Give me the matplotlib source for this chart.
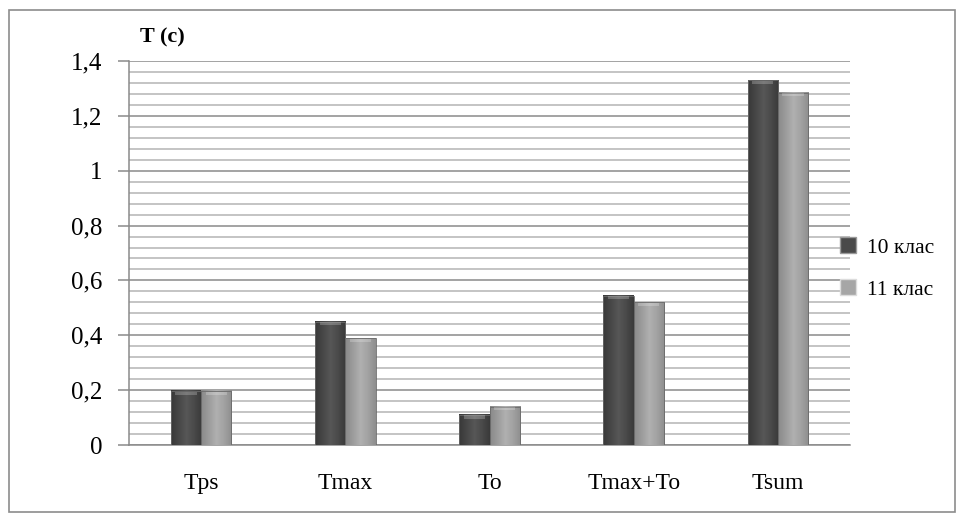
import matplotlib.pyplot as plt
import numpy as np
from matplotlib.patches import Rectangle
from matplotlib.colors import LinearSegmentedColormap

# data
categories = ["Tps", "Tmax", "To", "Tmax+To", "Tsum"]
class10 = [0.197, 0.45, 0.11, 0.545, 1.33]
class11 = [0.197, 0.39, 0.14, 0.52, 1.285]
series_names = ["10 клас", "11 клас"]
yticks = [0, 0.2, 0.4, 0.6, 0.8, 1, 1.2, 1.4]
ytick_labels = ["0", "0,2", "0,4", "0,6", "0,8", "1", "1,2", "1,4"]

plt.rcParams['font.family'] = ['Liberation Serif', 'DejaVu Serif']

fig = plt.figure(figsize=(9.6, 5.15), dpi=100)
# outer chart frame
fig.patches.append(Rectangle((9/960, 3/515), 946/960, 502/515, transform=fig.transFigure,
                             fill=False, edgecolor='#8c8c8c', linewidth=1.2))

ax = fig.add_axes([129/960, 70/515, 721/960, 384/515])

dark = LinearSegmentedColormap.from_list("dark", ["#383838", "#474747", "#575757", "#4a4a4a", "#3a3a3a"])
light = LinearSegmentedColormap.from_list("light", ["#8a8a8a", "#9c9c9c", "#b0b0b0", "#a2a2a2", "#8e8e8e"])
grad = np.linspace(0, 1, 64).reshape(1, -1)

w = 0.21
x = np.arange(len(categories))
for vals, cmap, off in [(class10, dark, -w / 2), (class11, light, w / 2)]:
    for xi, v in zip(x, vals):
        x0, x1 = xi + off - w / 2, xi + off + w / 2
        ax.imshow(grad, extent=[x0, x1, 0, v], aspect='auto', cmap=cmap, zorder=3, interpolation='bilinear')
        ax.add_patch(Rectangle((x0, 0), w, v, fill=False, edgecolor='#6a6a6a', linewidth=0.6, zorder=4))
        # small sheen at the top of the bar
        ax.add_patch(Rectangle((x0 + w * 0.15, v - 0.014), w * 0.7, 0.012, color='white', alpha=0.22,
                               linewidth=0, zorder=5))

ax.set_xlim(-0.5, len(categories) - 0.5)
ax.set_ylim(0, 1.4)

# grid: minor every 0.04, major every 0.2
for yv in np.arange(0.04, 1.4, 0.04):
    if abs(round(yv / 0.2) * 0.2 - yv) > 1e-6:
        ax.axhline(yv, color='#b4b4b4', linewidth=1.1, zorder=1)
for yv in yticks:
    ax.axhline(yv, color='#8a8a8a', linewidth=1.1, zorder=1)

ax.set_yticks(yticks)
ax.set_yticklabels(ytick_labels, fontsize=18)
ax.set_xticks(x)
ax.set_xticklabels(categories, fontsize=17)
ax.tick_params(axis='y', direction='out', length=8, color='#8a8a8a', width=1.1, pad=11)
ax.tick_params(axis='x', length=0, pad=20)

for s in ['top', 'right']:
    ax.spines[s].set_visible(False)
ax.spines['left'].set_color('#8a8a8a')
ax.spines['bottom'].set_color('#8a8a8a')
ax.spines['left'].set_linewidth(1.1)
ax.spines['bottom'].set_linewidth(1.1)

ax.text(0.015, 1.035, "T (c)", transform=ax.transAxes, fontsize=16, fontweight='bold', ha='left', va='bottom')

handles = [Rectangle((0, 0), 1, 1, facecolor="#4a4a4a", edgecolor='#9a9a9a'),
           Rectangle((0, 0), 1, 1, facecolor="#a6a6a6", edgecolor='#dcdcdc')]
ax.legend(handles, series_names, loc='center left', bbox_to_anchor=(0.986, 0.46), frameon=False,
          fontsize=15.5, handlelength=0.75, handleheight=0.75, handletextpad=0.5, labelspacing=1.0,
          borderpad=0, borderaxespad=0)

fig.savefig("out.png", dpi=100)
